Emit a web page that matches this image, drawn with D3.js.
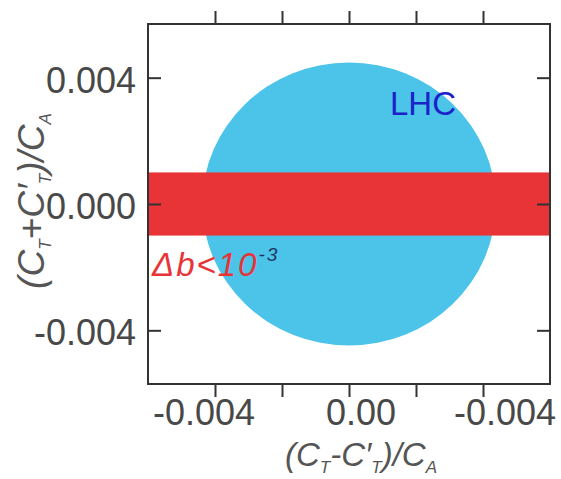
<!DOCTYPE html>
<html>
<head>
<meta charset="utf-8">
<script src="https://cdn.jsdelivr.net/npm/d3@7"></script>
<style>
  html, body { margin: 0; padding: 0; background: #fff; }
  svg { display: block; }
  text { font-family: "Liberation Sans", "DejaVu Sans", sans-serif; }
</style>
</head>
<body>
<svg id="chart" width="561" height="479"></svg>
<script>
// Axis ranges and tick values
const xDomain = [-0.006, 0.006];
const yDomain = [-0.0057, 0.0057];
const xMinorTicks = [-0.004, -0.002, 0.0, 0.002, 0.004];
const xLabelTicks = [-0.004, 0.0, 0.004];
const xTickLabels = ["-0.004", "0.00", "-0.004"];
const yTicks = [0.004, 0.0, -0.004];
const yTickLabels = ["0.004", "0.000", "-0.004"];

// LHC allowed region: centre and half-widths (x, y)
const lhcCenter = [0.0, 0.0];
const lhcRadius = [0.00438, 0.00448];
// Delta b band limits (y)
const bandLimits = [-0.001, 0.001];

const plot = { left: 148, right: 550, top: 24, bottom: 384 };

const svg = d3.select("#chart");
const x = d3.scaleLinear().domain(xDomain).range([plot.left, plot.right]);
const y = d3.scaleLinear().domain(yDomain).range([plot.bottom, plot.top]);

const clipId = "plotClip";
svg.append("defs").append("clipPath").attr("id", clipId)
  .append("rect")
  .attr("x", plot.left).attr("y", plot.top)
  .attr("width", plot.right - plot.left).attr("height", plot.bottom - plot.top);

const g = svg.append("g").attr("clip-path", `url(#${clipId})`);

// LHC region
g.append("ellipse")
  .attr("cx", x(lhcCenter[0]))
  .attr("cy", y(lhcCenter[1]))
  .attr("rx", x(lhcCenter[0] + lhcRadius[0]) - x(lhcCenter[0]))
  .attr("ry", y(lhcCenter[1]) - y(lhcCenter[1] + lhcRadius[1]))
  .attr("fill", "#4cc4ea");

// Delta b band
g.append("rect")
  .attr("x", x(xDomain[0]))
  .attr("width", x(xDomain[1]) - x(xDomain[0]))
  .attr("y", y(bandLimits[1]))
  .attr("height", y(bandLimits[0]) - y(bandLimits[1]))
  .attr("fill", "#e83437");

// Frame
const axisColor = "#333";
svg.append("rect")
  .attr("x", plot.left).attr("y", plot.top)
  .attr("width", plot.right - plot.left).attr("height", plot.bottom - plot.top)
  .attr("fill", "none").attr("stroke", axisColor).attr("stroke-width", 2);

// Top and bottom axes: ticks outward
const tickLen = 13;
const bottomAxis = d3.axisBottom(x).tickValues(xMinorTicks).tickSize(tickLen).tickFormat("");
const topAxis = d3.axisTop(x).tickValues(xMinorTicks).tickSize(tickLen).tickFormat("");
// Left and right axes: ticks inward
const leftAxis = d3.axisRight(y).tickValues(yTicks).tickSize(tickLen).tickFormat("");
const rightAxis = d3.axisLeft(y).tickValues(yTicks).tickSize(tickLen).tickFormat("");

function styleAxis(sel) {
  sel.select(".domain").remove();
  sel.selectAll(".tick line").attr("stroke", axisColor).attr("stroke-width", 2);
}
svg.append("g").attr("transform", `translate(0,${plot.bottom})`).call(bottomAxis).call(styleAxis);
svg.append("g").attr("transform", `translate(0,${plot.top})`).call(topAxis).call(styleAxis);
svg.append("g").attr("transform", `translate(${plot.left},0)`).call(leftAxis).call(styleAxis);
svg.append("g").attr("transform", `translate(${plot.right},0)`).call(rightAxis).call(styleAxis);

// Tick labels
const labelColor = "#484848";
const labelSize = 36;
const xLabelNudge = [-11, 12, 22];
svg.append("g").selectAll("text")
  .data(xLabelTicks)
  .join("text")
  .attr("x", (d, i) => x(d) + xLabelNudge[i])
  .attr("y", 425)
  .attr("text-anchor", "middle")
  .attr("font-size", labelSize)
  .attr("fill", labelColor)
  .text((d, i) => xTickLabels[i]);

svg.append("g").selectAll("text")
  .data(yTicks)
  .join("text")
  .attr("x", 136)
  .attr("y", d => y(d) + 15)
  .attr("text-anchor", "end")
  .attr("font-size", labelSize)
  .attr("fill", labelColor)
  .text((d, i) => yTickLabels[i]);

// Axis titles
const titleColor = "#555";
function title(sel, sign) {
  sel.append("tspan").text("(C");
  sel.append("tspan").attr("font-size", 17).attr("dy", 7).text("T");
  sel.append("tspan").attr("dy", -7).text(sign + "C\u2032");
  sel.append("tspan").attr("font-size", 17).attr("dy", 7).text("T");
  sel.append("tspan").attr("dy", -7).text(")/C");
  sel.append("tspan").attr("font-size", 17).attr("dy", 7).text("A");
}
svg.append("text")
  .attr("x", 361).attr("y", 466)
  .attr("text-anchor", "middle")
  .attr("font-size", 33)
  .attr("font-style", "italic")
  .attr("fill", titleColor)
  .call(title, "-");

svg.append("text")
  .attr("transform", "translate(44,201) rotate(-90)")
  .attr("text-anchor", "middle")
  .attr("font-size", 37)
  .attr("font-style", "italic")
  .attr("fill", titleColor)
  .call(title, "+");

// Region labels
svg.append("text")
  .attr("x", 390).attr("y", 115)
  .attr("font-size", 33)
  .attr("fill", "#1a22c8")
  .text("LHC");

const db = svg.append("text")
  .attr("x", 152).attr("y", 276)
  .attr("font-size", 33)
  .attr("font-style", "italic")
  .attr("letter-spacing", 2)
  .attr("fill", "#e83437");
db.append("tspan").text("\u0394b<10");
db.append("tspan").attr("font-size", 19).attr("dy", -15).attr("fill", "#1f3560").text("-3");
</script>
</body>
</html>
